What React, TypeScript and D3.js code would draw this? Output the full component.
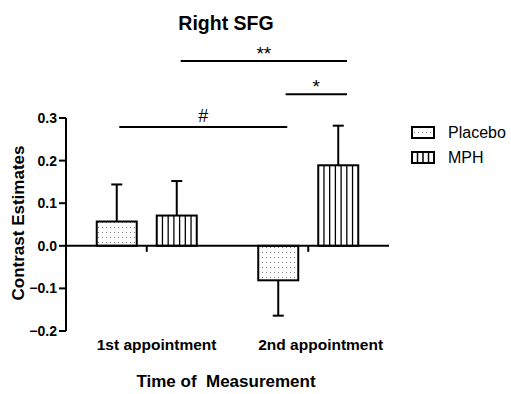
import React from "react";
import * as d3 from "d3";

const groups = ["1st appointment", "2nd appointment"];
const series = ["Placebo", "MPH"];
const placeboMean = [0.057, -0.081];
const placeboErr = [0.087, 0.083];
const mphMean = [0.071, 0.189];
const mphErr = [0.081, 0.093];
const yTicks = [-0.2, -0.1, 0.0, 0.1, 0.2, 0.3];
const bracketLabels = ["#", "**", "*"];
const bracketStart = [-0.17, 0.21, 0.86];
const bracketEnd = [0.87, 1.24, 1.24];
const bracketLevel = [0.279, 0.434, 0.356];

const W = 511;
const H = 394;
const FONT = "'Liberation Sans', Arial, Helvetica, sans-serif";

export default function App() {
  const x0 = 66;
  const x1 = 389;
  const y = d3.scaleLinear().domain([-0.2, 0.3]).range([331, 118]);
  const xg = d3.scaleBand().domain(groups).range([x0, x1]).paddingInner(0).paddingOuter(0);
  const xs = d3.scaleBand().domain(series).range([-50, 50]).paddingInner(1 / 3).paddingOuter(0);
  const xpos = d3
    .scaleLinear()
    .domain([0, 1])
    .range([xg(groups[0])! + xg.bandwidth() / 2, xg(groups[1])! + xg.bandwidth() / 2]);

  const bars = groups.flatMap((g, i) => [
    { g, s: "Placebo", v: placeboMean[i], e: placeboErr[i] },
    { g, s: "MPH", v: mphMean[i], e: mphErr[i] },
  ]);
  const bw = xs.bandwidth();
  const y0 = y(0);
  const fmt = d3.format(".1f");

  return (
    <div style={{ position: "absolute", left: 0, top: 0 }}>
      <svg width={W} height={H} style={{ display: "block", background: "#fff" }} fontFamily={FONT}>
        <defs>
          <pattern id="dots" patternUnits="userSpaceOnUse" width={4} height={5} x={1} y={1}>
            <rect x={1} y={1} width={1} height={1} fill="#7a7a7a" />
          </pattern>
        </defs>
        <rect width={W} height={H} fill="#fff" />
        {/* title */}
        <text x={226} y={30} textAnchor="middle" fontWeight="bold" fontSize={19.5}>
          Right SFG
        </text>
        {/* y axis */}
        <line x1={x0} x2={x0} y1={y(0.3)} y2={y(-0.2)} stroke="#000" strokeWidth={2} />
        {yTicks.map((t) => (
          <g key={t}>
            <line x1={x0 - 7} x2={x0} y1={y(t)} y2={y(t)} stroke="#000" strokeWidth={2} />
            <text x={x0 - 9} y={y(t) + 5} textAnchor="end" fontWeight="bold" fontSize={14}>
              {fmt(t)}
            </text>
          </g>
        ))}
        <text
          transform={`translate(24,${223}) rotate(-90)`}
          textAnchor="middle"
          fontWeight="bold"
          fontSize={17}
        >
          Contrast Estimates
        </text>
        {/* bars */}
        {bars.map((b, i) => {
          const cx = xg(b.g)! + xg.bandwidth() / 2;
          const bx = cx + xs(b.s)!;
          const top = Math.min(y(b.v), y0);
          const h = Math.abs(y(b.v) - y0);
          const ecx = bx + bw / 2;
          const eEnd = b.v >= 0 ? y(b.v + b.e) : y(b.v - b.e);
          return (
            <g key={i}>
              <line x1={ecx} x2={ecx} y1={y(b.v)} y2={eEnd} stroke="#000" strokeWidth={2} />
              <line x1={ecx - 5.5} x2={ecx + 5.5} y1={eEnd} y2={eEnd} stroke="#000" strokeWidth={2} />
              <rect x={bx} y={top} width={bw} height={h} fill="#fff" />
              {b.s === "Placebo" ? (
                <rect x={bx} y={top} width={bw} height={h} fill="url(#dots)" />
              ) : (
                d3.range(1, 7).map((k) => (
                  <line
                    key={k}
                    x1={bx + (k * bw) / 7}
                    x2={bx + (k * bw) / 7}
                    y1={top}
                    y2={top + h}
                    stroke="#000"
                    strokeWidth={1.3}
                  />
                ))
              )}
              <rect x={bx} y={top} width={bw} height={h} fill="none" stroke="#000" strokeWidth={2} />
            </g>
          );
        })}
        {/* x axis */}
        <line x1={x0} x2={x1} y1={y0} y2={y0} stroke="#000" strokeWidth={2} />
        {groups.map((g) => {
          const cx = xg(g)! + xg.bandwidth() / 2;
          return (
            <g key={g}>
              <line x1={cx} x2={cx} y1={y0} y2={y0 + 6} stroke="#000" strokeWidth={2} />
              <text x={cx + xs("Placebo")!} y={350} fontWeight="bold" fontSize={15.5}>
                {g}
              </text>
            </g>
          );
        })}
        <text x={226} y={387} textAnchor="middle" fontWeight="bold" fontSize={17} style={{ whiteSpace: "pre" }}>
          {"Time of  Measurement"}
        </text>
        {/* significance brackets */}
        {bracketLabels.map((l, i) => {
          const a = xpos(bracketStart[i]);
          const b = xpos(bracketEnd[i]);
          const yy = y(bracketLevel[i]);
          const isStar = l.includes("*");
          return (
            <g key={i}>
              <line x1={a} x2={b} y1={yy} y2={yy} stroke="#000" strokeWidth={2} />
              <text
                x={(a + b) / 2}
                y={isStar ? yy - 1 : yy - 5}
                textAnchor="middle"
                fontSize={isStar ? 19 : 18}
              >
                {l}
              </text>
            </g>
          );
        })}
        {/* legend */}
        {series.map((s, i) => {
          const ly = 127 + i * 25;
          return (
            <g key={s}>
              <rect x={412} y={ly} width={22} height={11} fill="#fff" />
              {s === "Placebo" ? (
                <rect x={412} y={ly} width={22} height={11} fill="url(#dots)" />
              ) : (
                d3.range(1, 4).map((k) => (
                  <line key={k} x1={412 + (k * 22) / 4} x2={412 + (k * 22) / 4} y1={ly} y2={ly + 11} stroke="#000" strokeWidth={1.5} />
                ))
              )}
              <rect x={412} y={ly} width={22} height={11} fill="none" stroke="#000" strokeWidth={2} />
              <text x={448} y={ly + 11} fontSize={16}>
                {s}
              </text>
            </g>
          );
        })}
      </svg>
    </div>
  );
}
